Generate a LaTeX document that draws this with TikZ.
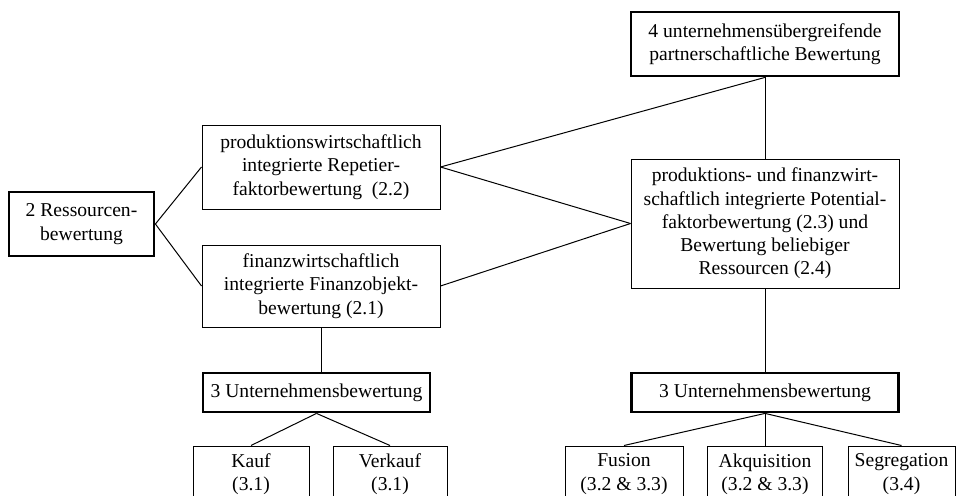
\documentclass[tikz,border=0pt]{standalone}
\usepackage{fontspec}
\setmainfont{Liberation Serif}
\begin{document}
\begin{tikzpicture}[x=1pt,y=-1pt,
  box/.style={draw, line width=1pt, inner sep=0pt, align=center,
    font=\fontsize{19.6}{23.3}\selectfont},
  tbox/.style={box, line width=2.8pt},
  conn/.style={line width=1pt}]
\useasboundingbox (0,0) rectangle (957,495);
\clip (0,0) rectangle (957,495);
\node[tbox, minimum width=145pt, minimum height=64pt] (R) at (81.5,224) {2 Ressourcen-\\bewertung};
\node[box, minimum width=238pt, minimum height=84pt] (A) at (321,167) {produktionswirtschaftlich\\integrierte Repetier-\\faktorbewertung~ (2.2)};
\node[box, minimum width=238pt, minimum height=82pt] (B) at (321,286) {finanzwirtschaftlich\\integrierte Finanzobjekt-\\bewertung (2.1)};
\node[tbox, minimum width=268pt, minimum height=64pt] (T) at (765,44) {4 unternehmensübergreifende\\partnerschaftliche Bewertung};
\node[box, minimum width=268pt, minimum height=129pt] (C) at (765,223.5) {produktions- und finanzwirt-\\schaftlich integrierte Potential-\\faktorbewertung (2.3) und\\Bewertung beliebiger\\Ressourcen (2.4)};
\node[tbox, minimum width=227pt, minimum height=39pt] (U1) at (316.5,392.5) {3 Unternehmensbewertung};
\node[tbox, minimum width=267pt, minimum height=39pt] (U2) at (765,392.5) {3 Unternehmensbewertung};
\node[box, minimum width=116pt, minimum height=56pt] (K) at (251,474) {Kauf\\(3.1)};
\node[box, minimum width=114pt, minimum height=56pt] (V) at (390,474) {Verkauf\\(3.1)};
\node[box, minimum width=118pt, minimum height=56pt] (F) at (624,474) {Fusion\\(3.2 \& 3.3)};
\node[box, minimum width=115pt, minimum height=56pt] (Q) at (765,474) {Akquisition\\(3.2 \& 3.3)};
\node[box, minimum width=107pt, minimum height=56pt] (S) at (901.5,474) {Segregation\\(3.4)};
\draw[conn] (R.east) -- (A.west);
\draw[conn] (R.east) -- (B.west);
\draw[conn] (A.east) -- (T.south);
\draw[conn] (A.east) -- (C.west);
\draw[conn] (B.east) -- (C.west);
\draw[conn] (T.south) -- (C.north);
\draw[conn] (C.south) -- (U2.north);
\draw[conn] (B.south) -- (B.south |- U1.north);
\draw[conn] (U1.south) -- (K.north);
\draw[conn] (U1.south) -- (V.north);
\draw[conn] (U2.south) -- (F.north);
\draw[conn] (U2.south) -- (Q.north);
\draw[conn] (U2.south) -- (S.north);
\end{tikzpicture}
\end{document}
